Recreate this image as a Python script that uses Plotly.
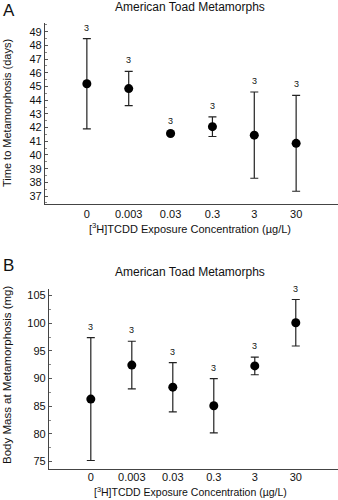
import plotly.graph_objects as go

categories = ["0", "0.003", "0.03", "0.3", "3", "30"]
n_labels = ["3", "3", "3", "3", "3", "3"]

# Panel A: time to metamorphosis (days)
days_mean = [45.2, 44.85, 41.57, 42.07, 41.45, 40.85]
days_err = [3.3, 1.25, 0.08, 0.72, 3.15, 3.5]

# Panel B: body mass at metamorphosis (mg)
mass_mean = [86.3, 92.45, 88.45, 85.1, 92.3, 100.1]
mass_err = [11.1, 4.3, 4.45, 4.9, 1.6, 4.2]

W, H = 338, 500
FONT = "Liberation Sans, Arial, Helvetica, sans-serif"
xpos = list(range(len(categories)))

fig = go.Figure()

def add_panel(mean, err, xa, ya):
    fig.add_trace(go.Scatter(
        x=xpos, y=mean, mode="markers", xaxis=xa, yaxis=ya,
        marker=dict(color="black", size=9),
        error_y=dict(type="data", array=err, visible=True, color="#222",
                     thickness=1.2, width=4),
        showlegend=False, hoverinfo="skip"))

add_panel(days_mean, days_err, "x", "y")
add_panel(mass_mean, mass_err, "x2", "y2")

def px_x(p):
    return p / W

def px_y(p):
    return 1 - p / H

axis_common = dict(showgrid=False, zeroline=False, showline=True,
                   linecolor="#444", linewidth=1.2,
                   tickfont=dict(family=FONT, size=11, color="#111"))

fig.update_layout(
    width=W, height=H, margin=dict(l=0, r=0, t=0, b=0),
    paper_bgcolor="white", plot_bgcolor="white",
    xaxis=dict(domain=[px_x(45), 1], anchor="y", range=[-1.0, 6.0],
               tickvals=xpos, ticktext=categories, ticks="", **axis_common),
    yaxis=dict(domain=[px_y(204), px_y(23)], anchor="x", range=[36.42, 49.64],
               tickvals=list(range(37, 50)), ticks="inside", ticklen=3,
               tickcolor="#555",
               minor=dict(dtick=0.5, tick0=0, ticks="inside", ticklen=2, tickcolor="#888"),
               **axis_common),
    xaxis2=dict(domain=[px_x(49), 1], anchor="y2", range=[-1.02, 6.03],
                tickvals=xpos, ticktext=categories, ticks="", ticklabelstandoff=-2,
                **axis_common),
    yaxis2=dict(domain=[px_y(469), px_y(289)], anchor="x2", range=[73.66, 106.2],
                tickvals=[75, 80, 85, 90, 95, 100, 105], ticks="inside", ticklen=3,
                tickcolor="#555",
                minor=dict(dtick=2.5, tick0=0, ticks="inside", ticklen=2, tickcolor="#888"),
                **axis_common),
)

ann = []
for i in xpos:
    ann.append(dict(x=i, y=days_mean[i] + days_err[i], xref="x", yref="y",
                    text=n_labels[i], showarrow=False, yshift=11,
                    font=dict(family=FONT, size=9, color="#111")))
    ann.append(dict(x=i, y=mass_mean[i] + mass_err[i], xref="x2", yref="y2",
                    text=n_labels[i], showarrow=False, yshift=11,
                    font=dict(family=FONT, size=9, color="#111")))

title = "American Toad Metamorphs"
xtitle = "[<sup>3</sup>H]TCDD Exposure Concentration (µg/L)"
for (ty, letter, ly, xty, ytext, yty, xsize, ysize) in [
        (7, "A", 10, 228, "Time to Metamorphosis (days)", 113, 11, 11),
        (272, "B", 265, 491, "Body Mass at Metamorphosis (mg)", 375, 10.5, 11.5)]:
    ann.append(dict(x=px_x(190), y=px_y(ty), xref="paper", yref="paper",
                    text=title, showarrow=False, xanchor="center", yanchor="middle",
                    font=dict(family=FONT, size=12, color="#111")))
    ann.append(dict(x=px_x(1), y=px_y(ly), xref="paper", yref="paper",
                    text=letter, showarrow=False, xanchor="left", yanchor="middle",
                    font=dict(family=FONT, size=17, color="#111")))
    ann.append(dict(x=px_x(190), y=px_y(xty), xref="paper", yref="paper",
                    text=xtitle, showarrow=False, xanchor="center", yanchor="middle",
                    font=dict(family=FONT, size=xsize, color="#111")))
    ann.append(dict(x=px_x(7), y=px_y(yty), xref="paper", yref="paper",
                    text=ytext, showarrow=False, xanchor="center", yanchor="middle",
                    textangle=-90,
                    font=dict(family=FONT, size=ysize, color="#111")))

fig.update_layout(annotations=ann)
fig.write_html("out.html")
